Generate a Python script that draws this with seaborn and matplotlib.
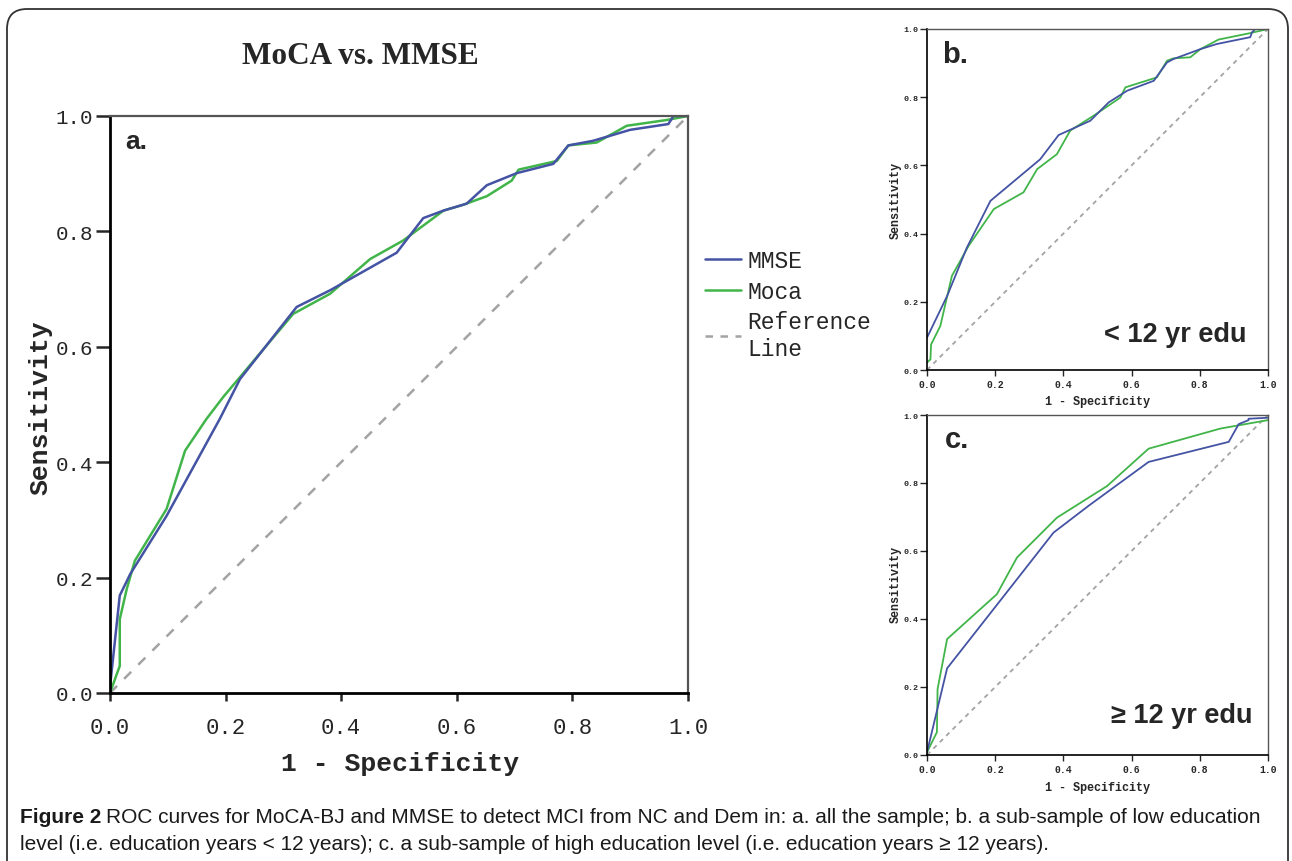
import numpy as np
import pandas as pd
import matplotlib
matplotlib.use("Agg")
import matplotlib.pyplot as plt
import seaborn as sns
from matplotlib.lines import Line2D
from matplotlib.patches import FancyBboxPatch

# %%
# ROC points (x = 1 - specificity, y = sensitivity)
a_mmse_x = [0.0, 0.017, 0.035, 0.098, 0.19, 0.225, 0.323, 0.381, 0.496, 0.542, 0.577, 0.617,
            0.652, 0.704, 0.767, 0.793, 0.836, 0.9, 0.966, 0.975, 1.0]
a_mmse_y = [0.01, 0.169, 0.206, 0.307, 0.475, 0.544, 0.669, 0.698, 0.763, 0.823, 0.836, 0.848,
            0.880, 0.901, 0.917, 0.949, 0.957, 0.976, 0.986, 1.0, 1.0]
a_moca_x = [0.0, 0.017, 0.017, 0.029, 0.043, 0.098, 0.13, 0.167, 0.196, 0.317, 0.381, 0.45,
            0.507, 0.577, 0.611, 0.652, 0.695, 0.707, 0.773, 0.793, 0.842, 0.894, 0.963, 1.0]
a_moca_y = [0.0, 0.047, 0.128, 0.18, 0.229, 0.319, 0.42, 0.475, 0.513, 0.657, 0.692, 0.752,
            0.784, 0.836, 0.846, 0.861, 0.888, 0.907, 0.922, 0.949, 0.954, 0.983, 0.993, 1.0]

b_mmse_x = [0.0, 0.059, 0.117, 0.186, 0.332, 0.386, 0.479, 0.533, 0.587, 0.665, 0.704, 0.723,
            0.802, 0.850, 0.899, 0.948, 0.953, 0.963, 1.0]
b_mmse_y = [0.095, 0.217, 0.359, 0.496, 0.618, 0.689, 0.731, 0.785, 0.819, 0.848, 0.902, 0.912,
            0.941, 0.956, 0.966, 0.976, 0.990, 1.0, 1.0]
b_moca_x = [0.0, 0.01, 0.012, 0.039, 0.073, 0.122, 0.196, 0.283, 0.323, 0.381, 0.42, 0.489,
            0.567, 0.582, 0.674, 0.704, 0.723, 0.772, 0.802, 0.855, 0.948, 1.0]
b_moca_y = [0.022, 0.031, 0.075, 0.129, 0.276, 0.364, 0.472, 0.521, 0.589, 0.633, 0.702, 0.746,
            0.799, 0.829, 0.858, 0.907, 0.914, 0.917, 0.941, 0.969, 0.988, 1.0]

c_mmse_x = [0.0, 0.059, 0.264, 0.371, 0.474, 0.650, 0.885, 0.914, 0.943, 0.943, 1.0]
c_mmse_y = [0.008, 0.255, 0.517, 0.654, 0.733, 0.862, 0.921, 0.973, 0.985, 0.989, 0.992]
c_moca_x = [0.0, 0.029, 0.031, 0.059, 0.205, 0.264, 0.381, 0.528, 0.650, 0.860, 1.0]
c_moca_y = [0.008, 0.067, 0.194, 0.341, 0.473, 0.581, 0.698, 0.791, 0.901, 0.960, 0.985]

ref_x = [0.0, 1.0]
ref_y = [0.0, 1.0]

ticks = [0.0, 0.2, 0.4, 0.6, 0.8, 1.0]
tick_labels = ["0.0", "0.2", "0.4", "0.6", "0.8", "1.0"]

blue = "#4453a3"
green = "#41b549"
grey = "#a3a3a3"

# %%
sns.set_theme(style="white")
plt.rcParams['font.family'] = ['Liberation Mono', 'DejaVu Sans Mono']

fig = plt.figure(figsize=(12.92, 8.62), dpi=100)

# rounded frame around the figure
frame = FancyBboxPatch((0.07, -0.6), 12.81, 9.12, boxstyle="round,pad=0,rounding_size=0.2",
                       transform=fig.dpi_scale_trans, fill=False, edgecolor="#333333", lw=1.3)
fig.add_artist(frame)


def roc_panel(ax, mx, my, gx, gy, big):
    lw = 1.8 if big else 1.3
    sns.lineplot(x=ref_x, y=ref_y, ax=ax, color=grey, lw=lw, linestyle=(0, (4, 4)) if big else (0, (2.5, 2.5)),
                 estimator=None, sort=False)
    sns.lineplot(x=gx, y=gy, ax=ax, color=green, lw=lw, estimator=None, sort=False)
    sns.lineplot(x=mx, y=my, ax=ax, color=blue, lw=lw, estimator=None, sort=False)
    ax.set_xlim(0, 1)
    ax.set_ylim(0, 1)
    ax.set_xticks(ticks)
    ax.set_yticks(ticks)
    ax.set_xticklabels(tick_labels)
    ax.set_yticklabels(tick_labels)
    if big:
        ax.tick_params(axis="y", direction="out", length=10, width=1.8, labelsize=15, pad=2, left=True)
        ax.tick_params(axis="x", direction="out", length=6, width=1.8, labelsize=16, pad=11, bottom=True)
    else:
        ax.tick_params(axis="y", direction="out", length=5, width=1.0, labelsize=6, pad=1, left=True)
        ax.tick_params(axis="x", direction="out", length=4.5, width=1.0, labelsize=7, pad=2, bottom=True)
    for lab in ax.get_xticklabels() + ax.get_yticklabels():
        lab.set_fontweight("normal" if big else "bold")
    for s in ["left", "bottom"]:
        ax.spines[s].set_color("black")
        ax.spines[s].set_linewidth(2.0 if big else 1.2)
    for s in ["top", "right"]:
        ax.spines[s].set_color("#555555")
        ax.spines[s].set_linewidth(1.6 if big else 1.0)


ax_a = fig.add_axes([0.0851, 0.1949, 0.4474, 0.6694])
roc_panel(ax_a, a_mmse_x, a_mmse_y, a_moca_x, a_moca_y, True)
ax_a.set_xlabel("1 - Specificity", fontsize=19, fontweight="bold")
ax_a.set_ylabel("Sensitivity", fontsize=19, fontweight="bold")
ax_a.xaxis.set_label_coords(0.502, -0.101)
ax_a.yaxis.set_label_coords(-0.1, 0.497)
ax_a.text(0.026, 0.957, "a.", transform=ax_a.transAxes, fontsize=19, fontweight="bold",
          family="Liberation Sans", ha="left", va="center")

ax_b = fig.add_axes([0.7175, 0.5696, 0.2639, 0.3956])
roc_panel(ax_b, b_mmse_x, b_mmse_y, b_moca_x, b_moca_y, False)
ax_b.set_xlabel("1 - Specificity", fontsize=8.5, fontweight="bold")
ax_b.set_ylabel("Sensitivity", fontsize=8.5, fontweight="bold")
ax_b.xaxis.set_label_coords(0.499, -0.073)
ax_b.yaxis.set_label_coords(-0.075, 0.5)
ax_b.text(0.044, 0.927, "b.", transform=ax_b.transAxes, fontsize=21, fontweight="bold",
          family="Liberation Sans", ha="left", va="center")
ax_b.text(0.938, 0.106, "< 12 yr edu", transform=ax_b.transAxes, fontsize=19.5, fontweight="bold",
          family="Liberation Sans", ha="right", va="center")

ax_c = fig.add_axes([0.7175, 0.1230, 0.2639, 0.3944])
roc_panel(ax_c, c_mmse_x, c_mmse_y, c_moca_x, c_moca_y, False)
ax_c.set_xlabel("1 - Specificity", fontsize=8.5, fontweight="bold")
ax_c.set_ylabel("Sensitivity", fontsize=8.5, fontweight="bold")
ax_c.xaxis.set_label_coords(0.499, -0.076)
ax_c.yaxis.set_label_coords(-0.075, 0.503)
ax_c.text(0.053, 0.929, "c.", transform=ax_c.transAxes, fontsize=21, fontweight="bold",
          family="Liberation Sans", ha="left", va="center")
ax_c.text(0.956, 0.118, "≥ 12 yr edu", transform=ax_c.transAxes, fontsize=19.5, fontweight="bold",
          family=["Liberation Sans", "DejaVu Sans"], ha="right", va="center")

# legend for panel a
handles = [Line2D([], [], color=blue, lw=1.8),
           Line2D([], [], color=green, lw=1.8),
           Line2D([], [], color=grey, lw=1.8, linestyle=(0, (3, 3)))]
fig.legend(handles, ["MMSE", "Moca", "Reference\nLine"], loc="upper left",
           bbox_to_anchor=(705 / 1292, 1 - 250 / 862), frameon=False, fontsize=16.5,
           handlelength=1.55, handletextpad=0.3, labelspacing=0.33,
           borderpad=0, borderaxespad=0)

fig.text(0.2786, 0.934, "MoCA vs. MMSE", fontsize=22.5, fontweight="bold",
         family="Liberation Serif", ha="center", va="center")

# caption
cap_fam = ["Liberation Sans Narrow", "Liberation Sans", "DejaVu Sans"]
cap_col = "#1a1a1a"
t1 = fig.text(20 / 1292, 1 - 818 / 862, "Figure 2", fontsize=15, fontweight="bold",
              family=cap_fam, color=cap_col, ha="left", va="center")
fig.canvas.draw()
bb = t1.get_window_extent()
fig.text((bb.x1 + 5) / 1292, 1 - 818 / 862,
         "ROC curves for MoCA-BJ and MMSE to detect MCI from NC and Dem in: a. all the sample; "
         "b. a sub-sample of low education",
         fontsize=15, family=cap_fam, color=cap_col, ha="left", va="center")
fig.text(20 / 1292, 1 - 845 / 862,
         "level (i.e. education years < 12 years); c. a sub-sample of high education level "
         "(i.e. education years ≥ 12 years).",
         fontsize=15, family=cap_fam, color=cap_col, ha="left", va="center")

fig.savefig("out.png", dpi=100)
